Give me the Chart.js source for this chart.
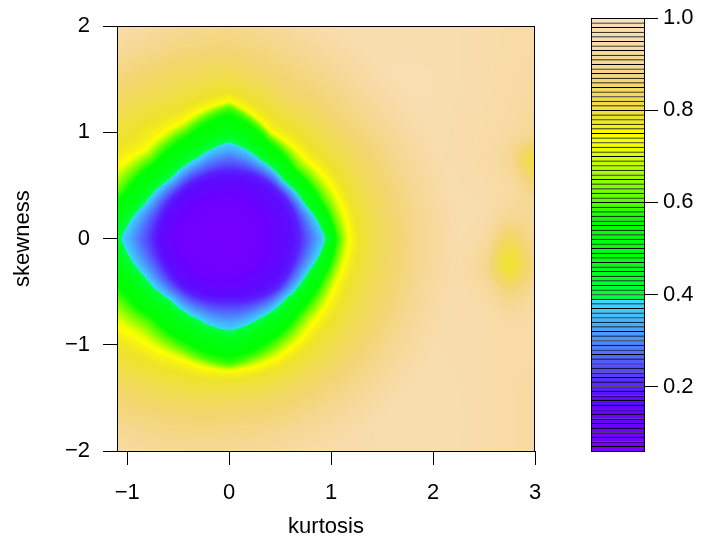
<!DOCTYPE html>
<html>
<head>
<meta charset="utf-8">
<title>kurtosis / skewness surface</title>
<script src="https://cdn.jsdelivr.net/npm/chart.js@4.4.1/dist/chart.umd.min.js"></script>
<style>
    html, body { margin: 0; padding: 0; background: #fff; }
    #wrap { position: relative; width: 710px; height: 542px; }
    #surface { position: absolute; left: 0; top: 0; }
    #scaleBar { position: absolute; left: 560px; top: 0; }
</style>
</head>
<body>
<div id="wrap">
    <canvas id="surface" width="560" height="542"></canvas>
    <canvas id="scaleBar" width="150" height="542"></canvas>
</div>
<script>
// --- central low region, read as contour lines around (0, 0) ---
const blobCentre = [0, 0];
const blobFloor = 0.07;
const blobAngles = [0, 22.5, 45, 67.5, 90, 112.5, 135, 157.5, 180, 202.5, 225, 247.5, 270, 292.5, 315, 337.5];
const contourLevels = [0.1, 0.2, 0.3, 0.38, 0.5, 0.6, 0.7, 0.76, 0.8, 0.85, 0.9, 1.0];
// distance of each contour from the centre, one entry per angle above
const radius010 = [0.30, 0.31, 0.33, 0.34, 0.35, 0.37, 0.40, 0.45, 0.50, 0.45, 0.40, 0.36, 0.33, 0.31, 0.30, 0.30];
const radius020 = [0.69, 0.68, 0.66, 0.65, 0.64, 0.64, 0.66, 0.70, 0.74, 0.69, 0.66, 0.62, 0.59, 0.62, 0.66, 0.67];
const radius030 = [0.835, 0.755, 0.718, 0.737, 0.791, 0.742, 0.741, 0.804, 0.92, 0.812, 0.747, 0.73, 0.747, 0.724, 0.735, 0.763];
const radius038 = [0.94, 0.81, 0.76, 0.80, 0.90, 0.815, 0.80, 0.88, 1.05, 0.90, 0.81, 0.81, 0.86, 0.80, 0.79, 0.83];
const radius050 = [1.003, 0.896, 0.846, 0.904, 1.053, 0.943, 0.922, 1.011, 1.208, 1.058, 0.95, 0.954, 1.009, 0.935, 0.894, 0.92];
const radius060 = [1.08, 1.00, 0.95, 1.03, 1.24, 1.10, 1.07, 1.17, 1.40, 1.25, 1.12, 1.13, 1.19, 1.10, 1.02, 1.03];
const radius070 = [1.152, 1.09, 1.028, 1.072, 1.282, 1.166, 1.148, 1.296, 1.52, 1.40, 1.24, 1.202, 1.232, 1.184, 1.11, 1.102];
const radius076 = [1.20, 1.15, 1.08, 1.10, 1.31, 1.21, 1.20, 1.38, 1.60, 1.52, 1.33, 1.25, 1.26, 1.24, 1.17, 1.15];
const radius080 = [1.35, 1.30, 1.25, 1.28, 1.45, 1.38, 1.50, 1.60, 1.80, 1.75, 1.58, 1.45, 1.40, 1.38, 1.35, 1.33];
const radius085 = [1.60, 1.55, 1.50, 1.50, 1.70, 1.70, 1.75, 1.90, 2.10, 2.00, 1.85, 1.70, 1.60, 1.60, 1.60, 1.60];
const radius090 = [1.90, 1.85, 1.80, 1.90, 2.05, 2.00, 2.05, 2.20, 2.40, 2.25, 2.15, 2.05, 1.95, 1.90, 1.90, 1.90];
const radius100 = [2.50, 2.45, 2.40, 2.50, 2.65, 2.50, 2.55, 2.70, 2.90, 2.85, 2.75, 2.60, 2.55, 2.50, 2.50, 2.50];
const contourRadii = [radius010, radius020, radius030, radius038, radius050, radius060,
    radius070, radius076, radius080, radius085, radius090, radius100];

// --- surrounding surface (pale background with two yellow spots on the right) ---
const bgKurtosis = [-1.1, -0.5, 0, 0.5, 1.0, 1.5, 2.0, 2.25, 2.5, 2.75, 3.0];
const bgSkewness = [2, 1.5, 1.0, 0.75, 0.5, 0.25, 0, -0.25, -0.5, -0.75, -1.0, -1.5, -2];
const bgSurface = [
    [0.94, 0.93, 0.93, 0.95, 0.96, 0.965, 0.965, 0.96, 0.95, 0.945, 0.94],
    [0.96, 0.96, 0.96, 0.96, 0.965, 0.97, 0.97, 0.96, 0.95, 0.94, 0.93],
    [0.96, 0.96, 0.96, 0.96, 0.96, 0.965, 0.965, 0.955, 0.945, 0.93, 0.90],
    [0.96, 0.96, 0.96, 0.96, 0.96, 0.96, 0.96, 0.955, 0.94, 0.90, 0.80],
    [0.96, 0.96, 0.96, 0.96, 0.96, 0.96, 0.965, 0.96, 0.95, 0.93, 0.87],
    [0.96, 0.96, 0.96, 0.96, 0.96, 0.96, 0.965, 0.965, 0.955, 0.91, 0.91],
    [0.96, 0.96, 0.96, 0.96, 0.96, 0.96, 0.965, 0.96, 0.93, 0.84, 0.90],
    [0.96, 0.96, 0.96, 0.96, 0.96, 0.96, 0.96, 0.95, 0.90, 0.79, 0.88],
    [0.96, 0.96, 0.96, 0.96, 0.96, 0.96, 0.96, 0.955, 0.93, 0.87, 0.91],
    [0.96, 0.96, 0.96, 0.96, 0.96, 0.96, 0.96, 0.955, 0.95, 0.93, 0.94],
    [0.96, 0.96, 0.96, 0.96, 0.96, 0.96, 0.96, 0.955, 0.95, 0.94, 0.94],
    [0.96, 0.96, 0.96, 0.96, 0.96, 0.96, 0.965, 0.96, 0.95, 0.94, 0.93],
    [0.94, 0.93, 0.93, 0.94, 0.95, 0.96, 0.965, 0.96, 0.95, 0.94, 0.93]
];

const xTicks = [-1, 0, 1, 2, 3];
const yTicks = [-2, -1, 0, 1, 2];
const levelTicks = [0.2, 0.4, 0.6, 0.8, 1.0];
const levelMin = 0.06;
const levelMax = 1.0;
const levelStep = 0.01;

// colour ramp (value -> colour)
const rampStops = [0.06, 0.12, 0.18, 0.22, 0.26, 0.30, 0.34, 0.385, 0.386, 0.45, 0.56, 0.60, 0.64, 0.68, 0.72, 0.75, 0.78, 0.82, 0.86, 0.90, 0.95, 1.0];
const rampColors = ['#7800ff', '#6a00ff', '#5c0cff', '#5638ff', '#5262ff', '#4c8cff', '#44b4ff', '#3ad8ff',
    '#00ff48', '#00ff18', '#00ff00', '#55ff00', '#88ff00', '#bbff00', '#f0ff00', '#ffff00', '#eee428',
    '#f0dc50', '#f3d672', '#f6d894', '#f8dcaa', '#f9e0b8'];

const FONT = { family: '"Liberation Sans", Arial, Helvetica, sans-serif', size: 22 };

const rampRgb = rampColors.map(h => [1, 3, 5].map(i => parseInt(h.slice(i, i + 2), 16)));

function rampColor(v) {
    if (v <= rampStops[0]) return rampRgb[0];
    for (let i = 0; i < rampStops.length - 1; i++) {
        if (v <= rampStops[i + 1]) {
            const t = (v - rampStops[i]) / (rampStops[i + 1] - rampStops[i]);
            const a = rampRgb[i], b = rampRgb[i + 1];
            return [0, 1, 2].map(k => Math.round(a[k] + (b[k] - a[k]) * t));
        }
    }
    return rampRgb[rampRgb.length - 1];
}

const css = rgb => `rgb(${rgb[0]},${rgb[1]},${rgb[2]})`;
const minus = v => String(v).replace('-', '\u2212');

// value of the central region: walk out through the contours along the angle
function blobAt(kx, sy) {
    const dx = kx - blobCentre[0], dy = sy - blobCentre[1];
    const r = Math.hypot(dx, dy);
    let th = Math.atan2(dy, dx) * 180 / Math.PI;
    if (th < 0) th += 360;
    const n = blobAngles.length;
    let a = n - 1;
    while (a > 0 && th < blobAngles[a]) a--;
    const next = (a + 1) % n;
    const span = (next === 0 ? 360 : blobAngles[next]) - blobAngles[a];
    const t = (th - blobAngles[a]) / span;
    let prevR = 0, prevV = blobFloor;
    for (let k = 0; k < contourLevels.length; k++) {
        const R = contourRadii[k][a] * (1 - t) + contourRadii[k][next] * t;
        if (r <= R) return prevV + (contourLevels[k] - prevV) * (r - prevR) / (R - prevR);
        prevR = R;
        prevV = contourLevels[k];
    }
    return contourLevels[contourLevels.length - 1];
}

// fractional grid index of a value along an axis
function gridIndex(axis, v) {
    const asc = axis[1] > axis[0];
    let i = 0;
    while (i < axis.length - 2 && (asc ? v > axis[i + 1] : v < axis[i + 1])) i++;
    const t = (v - axis[i]) / (axis[i + 1] - axis[i]);
    return i + Math.min(1, Math.max(0, t));
}

function cubic(p0, p1, p2, p3, t) {
    return p1 + 0.5 * t * (p2 - p0 + t * (2 * p0 - 5 * p1 + 4 * p2 - p3 + t * (3 * (p1 - p2) + p3 - p0)));
}

function backgroundAt(kx, sy) {
    const fi = gridIndex(bgKurtosis, kx);
    const fj = gridIndex(bgSkewness, sy);
    const i = Math.min(bgKurtosis.length - 2, Math.floor(fi));
    const j = Math.min(bgSkewness.length - 2, Math.floor(fj));
    const tx = fi - i, ty = fj - j;
    const node = (r, c) => bgSurface[Math.max(0, Math.min(bgSkewness.length - 1, r))][Math.max(0, Math.min(bgKurtosis.length - 1, c))];
    const rows = [];
    for (let r = j - 1; r <= j + 2; r++) {
        rows.push(cubic(node(r, i - 1), node(r, i), node(r, i + 1), node(r, i + 2), tx));
    }
    const v = cubic(rows[0], rows[1], rows[2], rows[3], ty);
    const local = [node(j, i), node(j, i + 1), node(j + 1, i), node(j + 1, i + 1)];
    return Math.min(Math.max(...local), Math.max(Math.min(...local), v));
}

const surfaceAt = (kx, sy) => Math.min(blobAt(kx, sy), backgroundAt(kx, sy));

const heatmapPlugin = {
    id: 'heatmap',
    beforeDatasetsDraw(chart) {
        const { ctx, chartArea, scales } = chart;
        const w = Math.round(chartArea.right - chartArea.left);
        const h = Math.round(chartArea.bottom - chartArea.top);
        const off = document.createElement('canvas');
        off.width = w;
        off.height = h;
        const octx = off.getContext('2d');
        const img = octx.createImageData(w, h);
        for (let py = 0; py < h; py++) {
            const sy = scales.y.getValueForPixel(chartArea.top + py + 0.5);
            for (let px = 0; px < w; px++) {
                const kx = scales.x.getValueForPixel(chartArea.left + px + 0.5);
                const c = rampColor(surfaceAt(kx, sy));
                const k = (py * w + px) * 4;
                img.data[k] = c[0];
                img.data[k + 1] = c[1];
                img.data[k + 2] = c[2];
                img.data[k + 3] = 255;
            }
        }
        octx.putImageData(img, 0, 0);
        ctx.drawImage(off, chartArea.left, chartArea.top);
    }
};

const framePlugin = {
    id: 'frame',
    afterDraw(chart) {
        const { ctx, chartArea } = chart;
        ctx.save();
        ctx.strokeStyle = '#000';
        ctx.lineWidth = 1;
        ctx.strokeRect(Math.round(chartArea.left) + 0.5, Math.round(chartArea.top) + 0.5,
            Math.round(chartArea.right - chartArea.left) - 1, Math.round(chartArea.bottom - chartArea.top));
        ctx.restore();
    }
};

new Chart(document.getElementById('surface'), {
    type: 'scatter',
    data: {
        datasets: [{
            data: bgSkewness.flatMap((s, j) => bgKurtosis.map((k, i) => ({ x: k, y: s, v: bgSurface[j][i] }))),
            pointRadius: 0,
            pointHoverRadius: 0
        }]
    },
    options: {
        responsive: false,
        animation: false,
        layout: { padding: { top: 18, right: 25, left: 0, bottom: 0 } },
        plugins: { legend: { display: false }, tooltip: { enabled: false } },
        scales: {
            x: {
                type: 'linear',
                min: -1.1,
                max: 3,
                afterBuildTicks: s => { s.ticks = xTicks.map(v => ({ value: v })); },
                afterFit: s => { s.height = 91; },
                ticks: { callback: v => minus(v), font: FONT, color: '#000', padding: 15, maxRotation: 0, autoSkip: false },
                grid: { drawOnChartArea: false, drawTicks: true, tickLength: 14, color: '#000' },
                border: { display: true, color: '#000' },
                title: { display: true, text: 'kurtosis', font: FONT, color: '#000', padding: { top: 0, bottom: 2 } }
            },
            y: {
                type: 'linear',
                min: -2,
                max: 2,
                afterBuildTicks: s => { s.ticks = yTicks.map(v => ({ value: v })); },
                afterFit: s => { s.width = 117; },
                ticks: { callback: v => minus(v), font: FONT, color: '#000', padding: 13, autoSkip: false },
                grid: { drawOnChartArea: false, drawTicks: true, tickLength: 14, color: '#000' },
                border: { display: true, color: '#000' },
                title: { display: true, text: 'skewness', font: FONT, color: '#000', padding: { top: 10, bottom: 0 } }
            }
        }
    },
    plugins: [heatmapPlugin, framePlugin]
});

// colour key: one floating bar per level band
const levelStarts = [];
for (let lo = levelMin; lo < levelMax - 1e-9; lo += levelStep) levelStarts.push(+lo.toFixed(2));

new Chart(document.getElementById('scaleBar'), {
    type: 'bar',
    data: {
        labels: ['level'],
        datasets: levelStarts.map(lo => ({
            data: [[lo, Math.min(levelMax, +(lo + levelStep).toFixed(2))]],
            backgroundColor: css(rampColor(lo + levelStep / 2)),
            borderColor: '#000',
            borderWidth: { top: 1, bottom: 0, left: 0, right: 0 },
            borderSkipped: false,
            barPercentage: 1,
            categoryPercentage: 1,
            grouped: false
        }))
    },
    options: {
        responsive: false,
        animation: false,
        layout: { padding: { top: 18, right: 0, left: 31, bottom: 91 } },
        plugins: { legend: { display: false }, tooltip: { enabled: false } },
        scales: {
            x: { display: false },
            y: {
                position: 'right',
                min: levelMin,
                max: levelMax,
                afterBuildTicks: s => { s.ticks = levelTicks.map(v => ({ value: v })); },
                afterFit: s => { s.width = 65; },
                ticks: { callback: v => v.toFixed(1), font: FONT, color: '#000', padding: 5 },
                grid: { drawOnChartArea: false, drawTicks: true, tickLength: 13, color: '#000' },
                border: { display: false }
            }
        }
    },
    plugins: [framePlugin]
});
</script>
</body>
</html>
